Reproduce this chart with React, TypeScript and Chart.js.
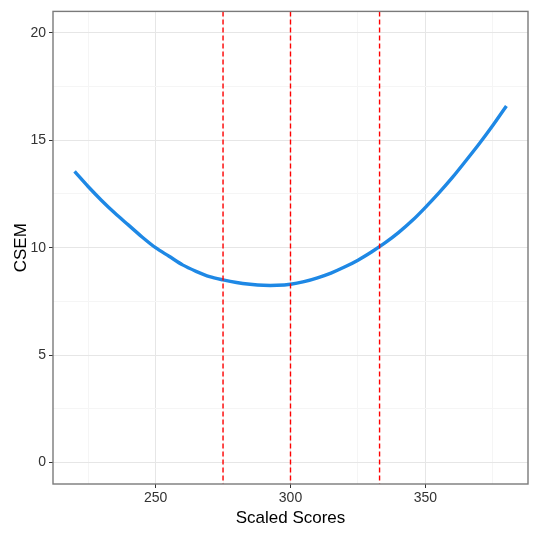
import React, { useEffect, useRef } from "react";
import { Chart, registerables } from "chart.js";

Chart.register(...registerables);

const scaledScores = [220, 225, 230, 235, 240, 245, 250, 255, 260, 265, 270, 275, 280, 285, 290, 295, 300, 305, 310, 315, 320, 325, 330, 335, 340, 345, 350, 355, 360, 365, 370, 375, 380];
const csem = [13.55, 12.85, 12.2, 11.6, 11.05, 10.5, 10.0, 9.6, 9.2, 8.9, 8.65, 8.5, 8.38, 8.3, 8.25, 8.25, 8.3, 8.42, 8.6, 8.82, 9.1, 9.42, 9.8, 10.22, 10.7, 11.25, 11.88, 12.55, 13.27, 14.05, 14.85, 15.7, 16.6];
const cutScores = [275, 300, 333];
const xGridValues = [225, 250, 275, 300, 325, 350, 375];
const xMajorTicks = [250, 300, 350];
const yGridValues = [0, 2.5, 5, 7.5, 10, 12.5, 15, 17.5, 20];
const yMajorTicks = [0, 5, 10, 15, 20];

const FONT = "'Liberation Sans', Arial, sans-serif";

export default function App() {
  const ref = useRef<HTMLCanvasElement | null>(null);
  useEffect(() => {
    document.body.style.margin = "0";
    const canvas = ref.current;
    if (!canvas) return;

    const overlay = {
      id: "overlay",
      afterDatasetsDraw(chart: any) {
        const { ctx, chartArea, scales } = chart;
        ctx.save();
        ctx.beginPath();
        ctx.rect(chartArea.left, chartArea.top, chartArea.right - chartArea.left, chartArea.bottom - chartArea.top);
        ctx.clip();
        ctx.strokeStyle = "#FF0000";
        ctx.lineWidth = 1.4;
        ctx.setLineDash([5, 3]);
        cutScores.forEach((v) => {
          const x = scales.x.getPixelForValue(v);
          ctx.beginPath();
          ctx.moveTo(x, chartArea.top);
          ctx.lineTo(x, chartArea.bottom);
          ctx.stroke();
        });
        ctx.restore();
        ctx.save();
        ctx.strokeStyle = "#7a7a7a";
        ctx.lineWidth = 1.4;
        ctx.strokeRect(chartArea.left, chartArea.top, chartArea.right - chartArea.left, chartArea.bottom - chartArea.top);
        ctx.restore();
      },
    };

    const isMajor = (arr: number[], v: number) => arr.some((m) => Math.abs(m - v) < 1e-9);

    const chart = new Chart(canvas, {
      type: "line",
      data: {
        datasets: [
          {
            data: scaledScores.map((x, i) => ({ x, y: csem[i] })),
            borderColor: "#1E88E5",
            borderWidth: 3.4,
            pointRadius: 0,
            tension: 0.3,
            fill: false,
          },
        ],
      },
      options: {
        animation: false,
        responsive: true,
        maintainAspectRatio: false,
        layout: { padding: { top: 5, right: 6, left: 0, bottom: 0 } },
        plugins: { legend: { display: false }, tooltip: { enabled: false } },
        scales: {
          x: {
            type: "linear",
            min: 212,
            max: 388,
            afterBuildTicks: (scale: any) => {
              scale.ticks = xGridValues.map((v) => ({ value: v }));
            },
            afterFit: (scale: any) => {
              scale.height = 49;
            },
            border: { display: false },
            grid: {
              color: (c: any) => (isMajor(xMajorTicks, c.tick.value) ? "#e6e6e6" : "#f5f5f5"),
              tickColor: (c: any) => (isMajor(xMajorTicks, c.tick.value) ? "#333333" : "rgba(0,0,0,0)"),
              tickLength: 4,
              lineWidth: 1,
            },
            ticks: {
              autoSkip: false,
              maxRotation: 0,
              padding: 2,
              color: "#333333",
              font: { family: FONT, size: 14 },
              callback: (v: any) => (isMajor(xMajorTicks, Number(v)) ? String(v) : ""),
            },
            title: {
              display: true,
              text: "Scaled Scores",
              color: "#000000",
              font: { family: FONT, size: 17 },
              padding: { top: 0, bottom: 4 },
            },
          },
          y: {
            type: "linear",
            min: -1,
            max: 21,
            afterBuildTicks: (scale: any) => {
              scale.ticks = yGridValues.map((v) => ({ value: v }));
            },
            afterFit: (scale: any) => {
              scale.width = 53;
            },
            border: { display: false },
            grid: {
              color: (c: any) => (isMajor(yMajorTicks, c.tick.value) ? "#e6e6e6" : "#f5f5f5"),
              tickColor: (c: any) => (isMajor(yMajorTicks, c.tick.value) ? "#333333" : "rgba(0,0,0,0)"),
              tickLength: 4,
              lineWidth: 1,
            },
            ticks: {
              autoSkip: false,
              padding: 3,
              color: "#333333",
              font: { family: FONT, size: 14 },
              callback: (v: any) => (isMajor(yMajorTicks, Number(v)) ? String(v) : ""),
            },
            title: {
              display: true,
              text: "CSEM",
              color: "#000000",
              font: { family: FONT, size: 17 },
              padding: { top: 11, bottom: 0 },
            },
          },
        },
      },
      plugins: [overlay],
    } as any);
    return () => chart.destroy();
  }, []);

  return (
    <div style={{ width: 534, height: 533, position: "relative" }}>
      <canvas ref={ref} />
    </div>
  );
}
